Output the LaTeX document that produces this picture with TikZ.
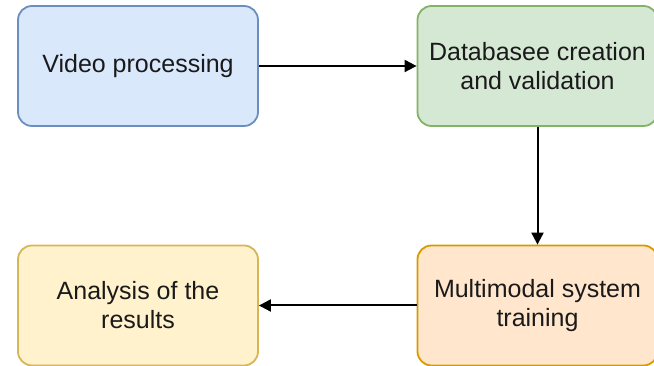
\documentclass[tikz,border=0pt]{standalone}
\usepackage{fontspec}
\setmainfont{Liberation Sans}
\usetikzlibrary{arrows.meta}
\definecolor{bluefill}{HTML}{DAE8FC}\definecolor{bluedraw}{HTML}{6C8EBF}
\definecolor{greenfill}{HTML}{D5E8D4}\definecolor{greendraw}{HTML}{82B366}
\definecolor{yellowfill}{HTML}{FFF2CC}\definecolor{yellowdraw}{HTML}{D6B656}
\definecolor{orangefill}{HTML}{FFE6CC}\definecolor{orangedraw}{HTML}{D79B00}
\definecolor{txt}{HTML}{1A1A1A}
\tikzset{
  box/.style={rectangle, rounded corners=14pt, line width=1.8pt, minimum width=240pt, minimum height=120pt, align=center, font=\fontsize{25}{29}\selectfont, text=txt, inner sep=0pt},
  conn/.style={line width=2pt, draw=black, -{Triangle[length=12pt,width=12pt]}}
}
\begin{document}
\begin{tikzpicture}[x=1pt,y=1pt]
\useasboundingbox (0,0) rectangle (654,366);
\clip (0,0) rectangle (654,366);
\node[box, fill=bluefill, draw=bluedraw] (vp) at (138,300) {Video processing};
\node[box, fill=greenfill, draw=greendraw] (db) at (537.5,300) {Databasee creation\\and validation};
\node[box, fill=orangefill, draw=orangedraw] (ms) at (537.5,60.5) {Multimodal system\\training};
\node[box, fill=yellowfill, draw=yellowdraw] (an) at (138,60.5) {Analysis of the\\results};
\draw[conn] (vp.east) -- (db.west);
\draw[conn] (db.south) -- (ms.north);
\draw[conn] (ms.west) -- (an.east);
\end{tikzpicture}
\end{document}
